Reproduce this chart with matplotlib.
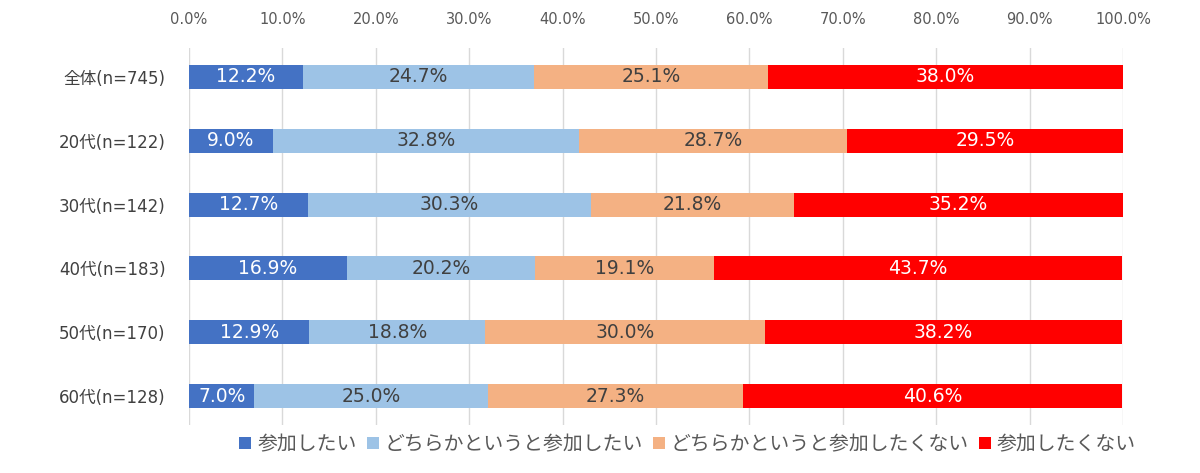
import matplotlib
matplotlib.use("Agg")
import matplotlib.pyplot as plt
import numpy as np

plt.rcParams['font.family'] = ['Noto Sans CJK JP', 'DejaVu Sans']

categories = ["全体(n=745)", "20代(n=122)", "30代(n=142)", "40代(n=183)", "50代(n=170)", "60代(n=128)"]
series_names = ["参加したい", "どちらかというと参加したい", "どちらかというと参加したくない", "参加したくない"]
s1 = [12.2, 9.0, 12.7, 16.9, 12.9, 7.0]
s2 = [24.7, 32.8, 30.3, 20.2, 18.8, 25.0]
s3 = [25.1, 28.7, 21.8, 19.1, 30.0, 27.3]
s4 = [38.0, 29.5, 35.2, 43.7, 38.2, 40.6]
xticks = [0, 10, 20, 30, 40, 50, 60, 70, 80, 90, 100]

colors = ["#4472C4", "#9DC3E6", "#F4B183", "#FF0000"]
text_colors = ["white", "#404040", "#404040", "white"]

fig = plt.figure(figsize=(12, 4.73), dpi=100)
ax = fig.add_axes([0.1575, 0.1015, 0.7783, 0.797])

y = np.arange(len(categories))
left = np.zeros(len(categories))
for vals, c, tc, name in zip([s1, s2, s3, s4], colors, text_colors, series_names):
    vals = np.array(vals)
    ax.barh(y, vals, left=left, height=0.375, color=c, label=name, zorder=3)
    for yi, l, v in zip(y, left, vals):
        ax.text(l + v / 2, yi, f"{v:.1f}%", ha="center", va="center", color=tc,
                fontsize=13.5, family="DejaVu Sans", zorder=4)
    left = left + vals

ax.set_xlim(0, 100)
ax.set_ylim(len(categories) - 0.55, -0.45)
ax.set_xticks(xticks)
ax.set_xticklabels([f"{t:.1f}%" for t in xticks], color="#595959", fontsize=10.5,
                   family="DejaVu Sans")
ax.xaxis.tick_top()
ax.tick_params(axis="x", length=0, pad=15)
ax.set_yticks(y)
ax.set_yticklabels(categories, fontsize=12, color="#404040",
                   family=["DejaVu Sans", "Noto Sans CJK JP"])
ax.tick_params(axis="y", length=0, pad=17)
ax.grid(axis="x", color="#D9D9D9", linewidth=1, zorder=0)
for s in ax.spines.values():
    s.set_visible(False)

fig.legend(loc="lower center", bbox_to_anchor=(0.573, 0.0), ncol=4, frameon=False,
           fontsize=14.3, handlelength=0.6, handleheight=0.6, handletextpad=0.3,
           columnspacing=0.5, labelcolor="#595959")

fig.savefig("out.png", dpi=100)
